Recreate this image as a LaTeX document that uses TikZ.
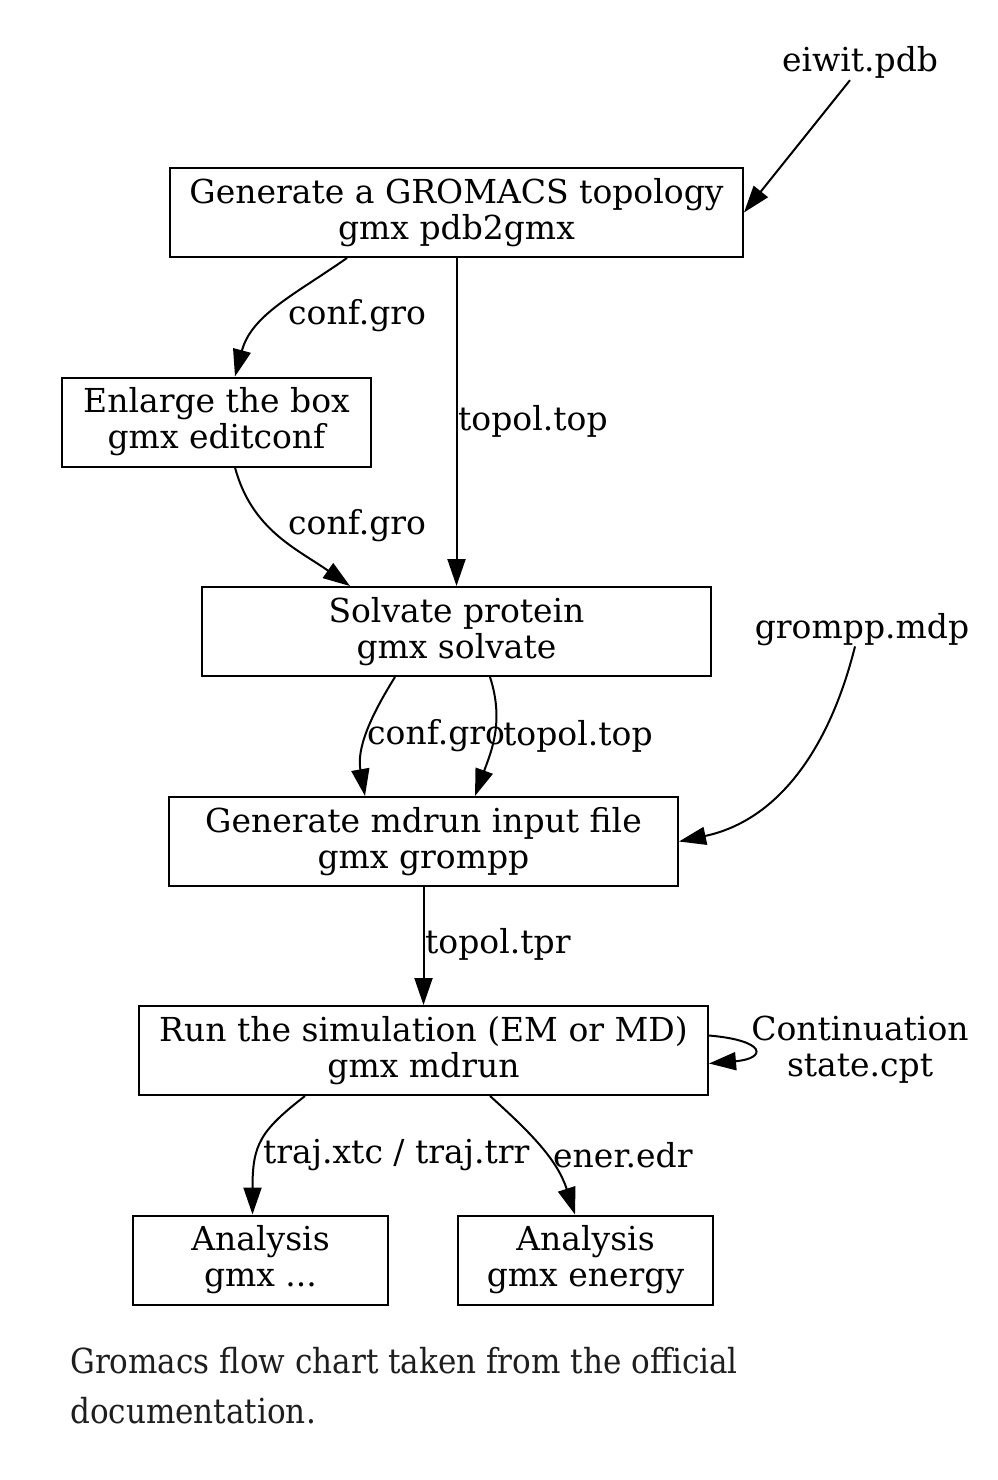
\documentclass[tikz,border=0pt]{standalone}
\usepackage{fontspec}
\usetikzlibrary{arrows.meta}
\newfontfamily\gvfont{DejaVu Serif}
\newfontfamily\capfont{DejaVu Serif Condensed}
\definecolor{captext}{HTML}{1E1E1E}
\tikzset{
  gvbox/.style={draw, line width=2pt, inner sep=0pt, minimum height=89pt,
    align=center, font=\gvfont\fontsize{33}{36}\selectfont},
  gvlabel/.style={inner sep=0pt, align=center, font=\gvfont\fontsize{33}{36}\selectfont},
  gvedge/.style={line width=2pt, -{Triangle[length=27pt,width=18pt]}}
}
\begin{document}
\begin{tikzpicture}[x=1pt, y=-1pt]
    \useasboundingbox (0,0) rectangle (998,1480);

    \node[gvlabel] (pdb) at (860,62) {eiwit.pdb};
    \node[gvbox, minimum width=573pt] (topo) at (456.5,212.5)
      {Generate a GROMACS topology\\gmx pdb2gmx};
    \node[gvbox, minimum width=309pt] (box) at (216.5,422)
      {Enlarge the box\\gmx editconf};
    \node[gvbox, minimum width=509pt] (solv) at (456.5,631.5)
      {Solvate protein\\gmx solvate};
    \node[gvlabel] (mdp) at (862,630) {grompp.mdp};
    \node[gvbox, minimum width=509pt] (grompp) at (423.5,841.5)
      {Generate mdrun input file\\gmx grompp};
    \node[gvbox, minimum width=569pt] (mdrun) at (423.5,1050.5)
      {Run the simulation (EM or MD)\\gmx mdrun};
    \node[gvlabel] (cpt) at (860,1050) {Continuation\\state.cpt};
    \node[gvbox, minimum width=255pt] (ana) at (260.5,1260)
      {Analysis\\gmx ...};
    \node[gvbox, minimum width=255pt] (ener) at (585.5,1260)
      {Analysis\\gmx energy};

    \draw[gvedge] ([xshift=-10pt,yshift=-2pt]pdb.south) -- (topo.east);

    \draw[gvedge] ([xshift=-109.5pt]topo.south) to[out=-145, in=75] ([xshift=18.5pt]box.north);
    \node[gvlabel, anchor=west] (lgro1) at (288,316) {conf.gro};

    \draw[gvedge] (topo.south) -- (solv.north);
    \node[gvlabel, anchor=west] (ltop1) at (458,421) {topol.top};

    \draw[gvedge] ([xshift=18.5pt]box.south) to[out=-75, in=145] ([xshift=-106.5pt]solv.north);
    \node[gvlabel, anchor=west] (lgro2) at (288,526) {conf.gro};

    \draw[gvedge] ([xshift=-61.5pt]solv.south) to[out=-122, in=100] ([xshift=-58.5pt]grompp.north);
    \draw[gvedge] ([xshift=33.5pt]solv.south) to[out=-72, in=70] ([xshift=51.5pt]grompp.north);
    \node[gvlabel, anchor=west] (lgro3) at (367,736) {conf.gro};
    \node[gvlabel, anchor=west] (ltop2) at (503,736) {topol.top};

    \draw[gvedge] ([xshift=-7pt]mdp.south) to[out=-104, in=12] (grompp.east);

    \draw[gvedge] (grompp.south) -- (mdrun.north);
    \node[gvlabel, anchor=west] (ltpr) at (425,944) {topol.tpr};

    \draw[gvedge] ([yshift=15pt]mdrun.east) .. controls +(58,5) and +(58,-5) .. ([yshift=-13pt]mdrun.east);

    \draw[gvedge] ([xshift=-118.5pt]mdrun.south) .. controls +(-45,35) and +(0,-70) .. ([xshift=-8pt]ana.north);
    \draw[gvedge] ([xshift=66.5pt]mdrun.south) to[out=-42, in=108] ([xshift=-10.5pt]ener.north);
    \node[gvlabel, anchor=west] (ltraj) at (263,1155) {traj.xtc / traj.trr};
    \node[gvlabel, anchor=west] (ledr) at (553,1155) {ener.edr};

    \node[anchor=north west, align=left, inner sep=0pt, text=captext,
      font=\capfont\fontsize{34.5}{50}\selectfont] (caption) at (70,1347)
      {Gromacs flow chart taken from the official\\documentation.};
\end{tikzpicture}
\end{document}
